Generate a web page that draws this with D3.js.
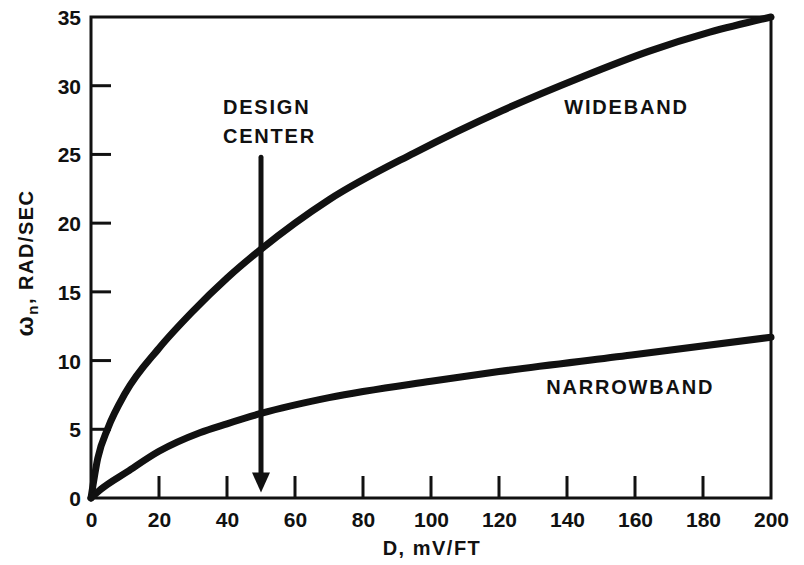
<!DOCTYPE html>
<html>
<head>
<meta charset="utf-8">
<script src="https://cdn.jsdelivr.net/npm/d3@7/dist/d3.min.js"></script>
<style>
  html, body { margin: 0; padding: 0; background: #fff; }
  svg { display: block; }
  text { font-family: "Liberation Sans", Arial, sans-serif; fill: #111; font-weight: bold; }
</style>
</head>
<body>
<svg id="chart" width="804" height="565"></svg>
<script>
// Natural frequency versus detector gain D for the two loop bandwidths
const xTicks = [0, 20, 40, 60, 80, 100, 120, 140, 160, 180, 200];
const yTicks = [0, 5, 10, 15, 20, 25, 30, 35];

const widebandD     = [0, 2, 5, 10, 20, 30, 40, 50, 70, 95, 121, 144, 164, 182, 200];
const widebandOmega = [0, 2.9, 5.1, 7.6, 10.9, 13.6, 16.0, 18.1, 21.7, 25.1, 28.2, 30.6, 32.5, 33.9, 35];

const narrowbandD     = [0, 3, 10.6, 20, 32, 40, 50, 70, 100, 120, 159, 200];
const narrowbandOmega = [0, 0.65, 1.9, 3.4, 4.75, 5.4, 6.15, 7.3, 8.5, 9.2, 10.4, 11.7];

// Design-center marker: vertical arrow at D = 50
const designD = 50;
const designTop = 24.8;
const designTip = 0.4;

const labels = [
  { text: "DESIGN",     d: 38.8,  w: 27.95 },
  { text: "CENTER",     d: 38.8,  w: 25.8 },
  { text: "WIDEBAND",   d: 139.2, w: 27.95 },
  { text: "NARROWBAND", d: 133.9, w: 7.55 }
];

const svg = d3.select("#chart");
const x = d3.scaleLinear().domain([0, 200]).range([91, 771]);
const y = d3.scaleLinear().domain([0, 35]).range([498, 17]);

const ink = "#111";

// Plot frame
svg.append("rect")
  .attr("x", x(0)).attr("y", y(35))
  .attr("width", x(200) - x(0)).attr("height", y(0) - y(35))
  .attr("fill", "none").attr("stroke", ink).attr("stroke-width", 3);

// Inward ticks on the left axis
const yAxis = d3.axisLeft(y).tickValues(yTicks).tickSize(0).tickPadding(10);
const gy = svg.append("g").attr("transform", `translate(${x(0)},0)`).call(yAxis);
gy.select(".domain").remove();
gy.selectAll("text").attr("font-size", 21).attr("fill", ink).attr("dy", "0.36em")
  .attr("font-family", "'Liberation Sans', Arial, sans-serif").attr("font-weight", "bold");
svg.append("g").selectAll("line")
  .data(yTicks.filter(v => v > 0 && v < 35))
  .join("line")
  .attr("x1", x(0)).attr("x2", x(0) + 20)
  .attr("y1", d => y(d)).attr("y2", d => y(d))
  .attr("stroke", ink).attr("stroke-width", 3);

// Inward ticks on the bottom axis
const xAxis = d3.axisBottom(x).tickValues(xTicks).tickSize(0).tickPadding(14);
const gx = svg.append("g").attr("transform", `translate(0,${y(0)})`).call(xAxis);
gx.select(".domain").remove();
gx.selectAll("text").attr("font-size", 21).attr("fill", ink)
  .attr("font-family", "'Liberation Sans', Arial, sans-serif").attr("font-weight", "bold");
svg.append("g").selectAll("line")
  .data(xTicks.filter(v => v > 0 && v < 200))
  .join("line")
  .attr("x1", d => x(d)).attr("x2", d => x(d))
  .attr("y1", y(0)).attr("y2", y(0) - 22)
  .attr("stroke", ink).attr("stroke-width", 3);

// Axis titles
svg.append("text")
  .attr("x", (x(0) + x(200)) / 2 + 1).attr("y", 555)
  .attr("text-anchor", "middle").attr("font-size", 20)
  .attr("letter-spacing", 1.5)
  .text("D,  mV/FT");

const yt = svg.append("text")
  .attr("transform", "translate(33,263) rotate(-90)")
  .attr("text-anchor", "middle").attr("font-size", 20)
  .attr("letter-spacing", 1.5);
yt.append("tspan").attr("font-size", 24).text("ω");
yt.append("tspan").attr("font-size", 15).attr("dy", 5).text("n");
yt.append("tspan").attr("dy", -5).text(",  RAD/SEC");

// Curves
const line = d3.line().x(d => x(d[0])).y(d => y(d[1])).curve(d3.curveMonotoneX);
const series = [
  d3.zip(widebandD, widebandOmega),
  d3.zip(narrowbandD, narrowbandOmega)
];
svg.append("g").selectAll("path")
  .data(series)
  .join("path")
  .attr("d", line)
  .attr("fill", "none").attr("stroke", ink)
  .attr("stroke-width", 7).attr("stroke-linecap", "round").attr("stroke-linejoin", "round");

// Design-center arrow
const headH = 20, headW = 9;
svg.append("line")
  .attr("x1", x(designD)).attr("x2", x(designD))
  .attr("y1", y(designTop)).attr("y2", y(designTip) - headH + 2)
  .attr("stroke", ink).attr("stroke-width", 5).attr("stroke-linecap", "round");
svg.append("path")
  .attr("d", d3.line()([
    [x(designD) - headW, y(designTip) - headH],
    [x(designD) + headW, y(designTip) - headH],
    [x(designD), y(designTip)]
  ]) + "Z")
  .attr("fill", ink);

// Curve and marker labels
svg.append("g").selectAll("text")
  .data(labels)
  .join("text")
  .attr("x", d => x(d.d)).attr("y", d => y(d.w))
  .attr("font-size", 20).attr("letter-spacing", 1.8)
  .text(d => d.text);
</script>
</body>
</html>
